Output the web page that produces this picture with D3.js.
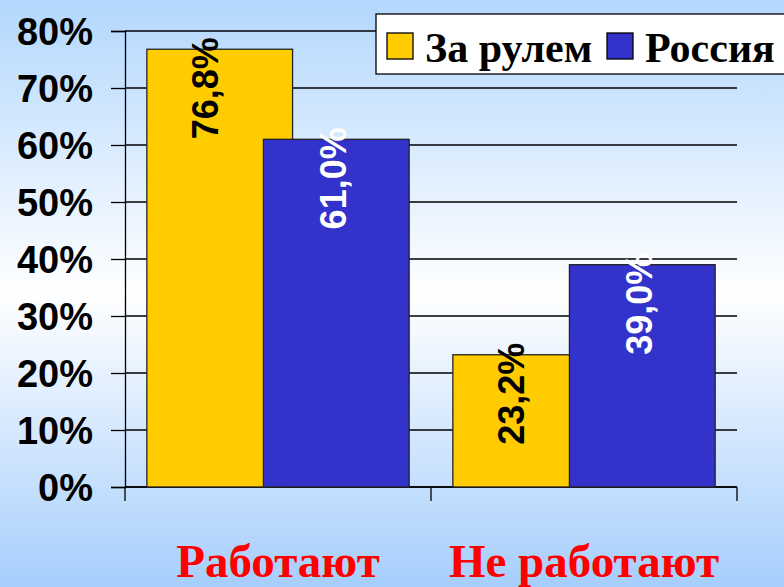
<!DOCTYPE html>
<html>
<head>
<meta charset="utf-8">
<script src="https://cdn.jsdelivr.net/npm/d3@7"></script>
<style>
  html, body { margin: 0; padding: 0; overflow: hidden; }
  svg { display: block; }
</style>
</head>
<body>
<svg id="chart" width="784" height="587"></svg>
<script>
// data
var categories = ["Работают", "Не работают"];
var seriesNames = ["За рулем", "Россия"];
var seriesColors = ["#FFCC00", "#3333CC"];
var labelColors = ["#000000", "#FFFFFF"];
var zaRulem = [76.8, 23.2];
var rossiya = [61.0, 39.0];
var yTicks = [0, 10, 20, 30, 40, 50, 60, 70, 80];

var series = [zaRulem, rossiya];

const svg = d3.select("#chart"),
      W = +svg.attr("width"),
      H = +svg.attr("height"),
      margin = {top: 31, right: 47, bottom: 100, left: 125},
      width = W - margin.left - margin.right,
      height = H - margin.top - margin.bottom;

// background gradient
var defs = svg.append("defs");
var grad = defs.append("linearGradient")
  .attr("id", "bg").attr("x1", 0).attr("y1", 0).attr("x2", 0).attr("y2", 1);
grad.append("stop").attr("offset", "0%").attr("stop-color", "#b3d7fd");
grad.append("stop").attr("offset", "50%").attr("stop-color", "#ffffff");
grad.append("stop").attr("offset", "100%").attr("stop-color", "#a6cefc");
svg.append("rect").attr("width", W).attr("height", H).attr("fill", "url(#bg)");

const g = svg.append("g").attr("transform", `translate(${margin.left},${margin.top})`);

const x = d3.scaleBand().domain(categories).range([0, width]);
const y = d3.scaleLinear().domain([0, 80]).range([height, 0]);

// bar geometry like excel: gap 30%, overlap 20%
var gapW = 0.30, overlap = 0.20;
var barW = x.bandwidth() / (2 - overlap + gapW);
var step = barW * (1 - overlap);
var pad = barW * gapW / 2;

// gridlines
g.append("g").selectAll("line")
  .data(yTicks)
  .enter().append("line")
    .attr("x1", 0).attr("x2", width)
    .attr("y1", d => y(d)).attr("y2", d => y(d))
    .attr("stroke", "#000").attr("stroke-width", 1.3);

// y axis
var yAxis = g.append("g")
  .call(d3.axisLeft(y).tickValues(yTicks).tickSize(14).tickFormat(d => d + "%"));
yAxis.select(".domain").attr("stroke", "#000").attr("stroke-width", 1.3);
yAxis.selectAll(".tick line").attr("stroke-width", 1.3);
yAxis.selectAll("text")
  .attr("x", -32)
  .attr("dy", "0.36em")
  .style("font-family", "Liberation Sans, Arial, sans-serif")
  .style("font-weight", "bold")
  .style("font-size", "38px")
  .attr("fill", "#000");

// x axis (ticks between categories)
var xAxis = g.append("g").attr("transform", `translate(0,${height})`);
xAxis.append("line").attr("x1", 0).attr("x2", width).attr("stroke", "#000").attr("stroke-width", 1.3);
xAxis.selectAll(".xt")
  .data([0, 1, 2])
  .enter().append("line")
    .attr("x1", d => d * x.step()).attr("x2", d => d * x.step())
    .attr("y1", 0).attr("y2", 14)
    .attr("stroke", "#000").attr("stroke-width", 1.3);

xAxis.selectAll(".xl")
  .data(categories)
  .enter().append("text")
    .attr("x", d => x(d) + x.bandwidth() / 2)
    .attr("y", 90)
    .attr("text-anchor", "middle")
    .style("font-family", "Liberation Serif, Times New Roman, serif")
    .style("font-weight", "bold")
    .style("font-size", "47px")
    .attr("fill", "#FF0000")
    .text(d => d);

// bars
series.forEach(function(vals, s) {
  g.selectAll(".bar" + s)
    .data(vals)
    .enter().append("rect")
      .attr("x", (d, i) => x(categories[i]) + pad + s * step)
      .attr("y", d => y(d))
      .attr("width", barW)
      .attr("height", d => height - y(d))
      .attr("fill", seriesColors[s])
      .attr("stroke", "#222")
      .attr("stroke-width", 1.3);
});

// value labels, rotated
series.forEach(function(vals, s) {
  g.selectAll(".lab" + s)
    .data(vals)
    .enter().append("text")
      .attr("transform", function(d, i) {
        var left = x(categories[i]) + pad + s * step;
        var cx = s == 0 ? left + step / 2 : left + barW / 2 - 3;
        return "translate(" + cx + "," + (y(d) - 12) + ") rotate(-90)";
      })
      .attr("text-anchor", "end")
      .attr("dy", "0.36em")
      .style("font-family", "Liberation Sans, Arial, sans-serif")
      .style("font-weight", "bold")
      .style("font-size", "36px")
      .attr("fill", labelColors[s])
      .text(d => d.toFixed(1).replace(".", ",") + "%");
});

// legend
var leg = svg.append("g").attr("transform", "translate(376,14)");
leg.append("rect").attr("width", 420).attr("height", 60)
  .attr("fill", "#fff").attr("stroke", "#000").attr("stroke-width", 1.3);
var legX = [11, 231];
seriesNames.forEach(function(name, s) {
  leg.append("rect")
    .attr("x", legX[s]).attr("y", 19).attr("width", 26).attr("height", 26)
    .attr("fill", seriesColors[s]).attr("stroke", "#000").attr("stroke-width", 1.3);
  leg.append("text")
    .attr("x", legX[s] + 38).attr("y", 48)
    .style("font-family", "Liberation Serif, Times New Roman, serif")
    .style("font-weight", "bold")
    .style("font-size", "42px")
    .attr("fill", "#000")
    .text(name);
});
</script>
</body>
</html>
